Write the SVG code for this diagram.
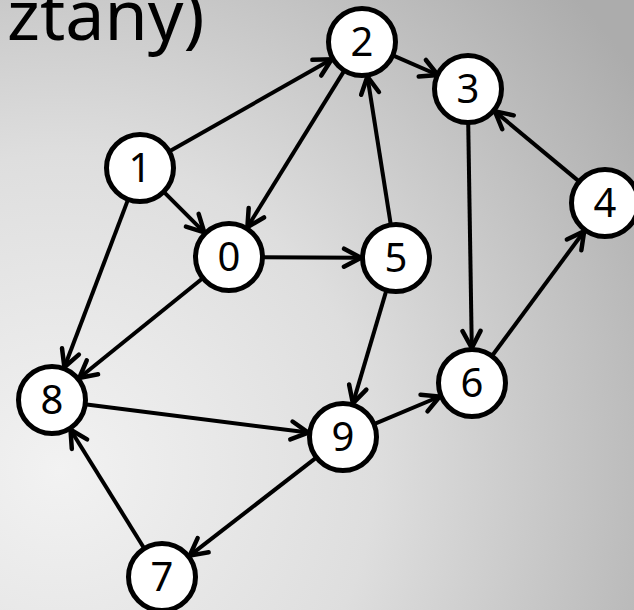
<svg xmlns="http://www.w3.org/2000/svg" width="634" height="610" viewBox="0 0 634 610">
  <defs>
    <radialGradient id="bg" cx="60" cy="470" r="700" gradientUnits="userSpaceOnUse">
      <stop offset="0" stop-color="#f2f2f2"/>
      <stop offset="0.45" stop-color="#dedede"/>
      <stop offset="1" stop-color="#acacac"/>
    </radialGradient>
    <marker id="arrow" viewBox="-22 -12 26 24" markerWidth="26" markerHeight="24" refX="0" refY="0" orient="auto" markerUnits="userSpaceOnUse">
      <path d="M -17 -9 L 0 0 L -17 9" fill="none" stroke="#000" stroke-width="4.5" stroke-linecap="round" stroke-linejoin="miter"/>
    </marker>
  </defs>
  <style>
    .edge { stroke: #000; stroke-width: 4; fill: none; marker-end: url(#arrow); }
    .node ellipse { fill: #fff; stroke: #000; stroke-width: 5; }
    .node text { font-family: "Noto Sans", "Open Sans", sans-serif; font-size: 40px; fill: #000; text-anchor: middle; }
    .title { font-family: "Noto Sans", "Open Sans", sans-serif; font-size: 70px; fill: #000; }
  </style>

  <rect width="634" height="610" fill="url(#bg)"/>

  <text class="title" x="7" y="40">ztany)</text>

  <g id="connectors">
    <line class="edge" x1="168.7" y1="151.7" x2="331.6" y2="59.3"/>
    <line class="edge" x1="163.3" y1="191.3" x2="204.3" y2="232.3"/>
    <line class="edge" x1="128.3" y1="198.9" x2="64.4" y2="367.3"/>
    <line class="edge" x1="344.6" y1="70.1" x2="247.4" y2="227.2"/>
    <line class="edge" x1="392.3" y1="55.2" x2="437.9" y2="75"/>
    <line class="edge" x1="390.9" y1="225.4" x2="367.4" y2="76.6"/>
    <line class="edge" x1="262" y1="257.2" x2="361" y2="257.8"/>
    <line class="edge" x1="203.3" y1="277.7" x2="79.2" y2="378"/>
    <line class="edge" x1="386.6" y1="289.6" x2="352.9" y2="403.4"/>
    <line class="edge" x1="468.2" y1="122" x2="471.8" y2="348"/>
    <line class="edge" x1="579.6" y1="181.9" x2="494.9" y2="111.4"/>
    <line class="edge" x1="491.6" y1="356.5" x2="584.2" y2="231.2"/>
    <line class="edge" x1="373.4" y1="424.3" x2="439.7" y2="396.5"/>
    <line class="edge" x1="84.7" y1="404.2" x2="308.3" y2="432.6"/>
    <line class="edge" x1="316.9" y1="457.2" x2="189.7" y2="555.6"/>
    <line class="edge" x1="144.6" y1="549" x2="70.5" y2="429.7"/>
  </g>

  <g id="node-0" class="node"><ellipse cx="229" cy="257" rx="33.5" ry="33.5"/><text x="229" y="271">0</text></g>
  <g id="node-1" class="node"><ellipse cx="140" cy="168" rx="33.5" ry="33.5"/><text x="140" y="182">1</text></g>
  <g id="node-2" class="node"><ellipse cx="362" cy="42" rx="33.5" ry="33.5"/><text x="362" y="56">2</text></g>
  <g id="node-3" class="node"><ellipse cx="468" cy="89" rx="33.5" ry="33.5"/><text x="468" y="103">3</text></g>
  <g id="node-4" class="node"><ellipse cx="605" cy="203" rx="33.5" ry="33.5"/><text x="605" y="217">4</text></g>
  <g id="node-5" class="node"><ellipse cx="396" cy="258" rx="33.5" ry="33.5"/><text x="396" y="272">5</text></g>
  <g id="node-6" class="node"><ellipse cx="472" cy="383" rx="33.5" ry="33.5"/><text x="472" y="397">6</text></g>
  <g id="node-7" class="node"><ellipse cx="162" cy="577" rx="33.5" ry="33.5"/><text x="162" y="591">7</text></g>
  <g id="node-8" class="node"><ellipse cx="52" cy="400" rx="33.5" ry="33.5"/><text x="52" y="414">8</text></g>
  <g id="node-9" class="node"><ellipse cx="343" cy="437" rx="33.5" ry="33.5"/><text x="343" y="451">9</text></g>
</svg>
